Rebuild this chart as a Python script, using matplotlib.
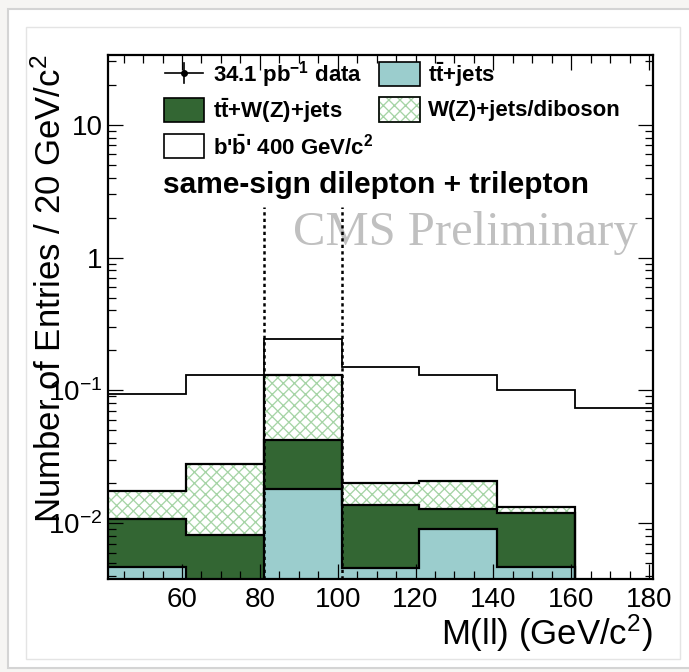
import numpy as np
import matplotlib
matplotlib.use("Agg")
import matplotlib.pyplot as plt
from matplotlib.patches import Rectangle
from matplotlib.ticker import FixedLocator, MultipleLocator, LogLocator, NullFormatter

# ---------------- data ----------------
bin_edges = [41, 61, 81, 101, 121, 141, 161, 181]
ttbar_jets = [0.0047, 0.0, 0.018, 0.0046, 0.009, 0.0047, 0.0]
ttbar_wz_jets = [0.0060, 0.0082, 0.024, 0.0090, 0.0038, 0.0073, 0.0]
wz_jets_diboson = [0.0067, 0.0198, 0.089, 0.0064, 0.0079, 0.0013, 0.0]
bprime_400 = [0.0766, 0.102, 0.112, 0.129, 0.109, 0.088, 0.0735]
data_counts = [0, 0, 0, 0, 0, 0, 0]
z_window = [81, 101]
x_ticks = [60, 80, 100, 120, 140, 160, 180]
y_ticks = [0.01, 0.1, 1, 10]
y_tick_labels = [r"$10^{-2}$", r"$10^{-1}$", "1", "10"]

# ---------------- style ----------------
plt.rcParams["font.family"] = ["Liberation Sans", "DejaVu Sans"]
plt.rcParams["mathtext.default"] = "regular"
plt.rcParams["hatch.linewidth"] = 0.95

W, H = 689, 672
fig = plt.figure(figsize=(W / 100, H / 100), dpi=100)
fig.patch.set_facecolor("#f6f5f3")


def fx(px):
    return px / W


def fy(py):
    return 1 - py / H


# card + inner frame
fig.patches.append(Rectangle((fx(8), fy(668)), fx(700) - fx(8), fy(9) - fy(668),
                             transform=fig.transFigure, facecolor="white",
                             edgecolor="#d4d4d4", lw=1.5, zorder=-3))
fig.patches.append(Rectangle((fx(25.5), fy(659)), fx(680) - fx(25.5), fy(26.5) - fy(659),
                             transform=fig.transFigure, facecolor="white",
                             edgecolor="#e4e4e4", lw=1.0, zorder=-2))

ax = fig.add_axes([fx(108), fy(579), fx(653) - fx(108), fy(55) - fy(579)])
ax.set_zorder(1)
ax.set_facecolor("none")
ax.set_yscale("log")
ax.set_xlim(bin_edges[0], bin_edges[-1])
ax.set_ylim(0.0038, 33.5)

edges = np.array(bin_edges, dtype=float)
FLOOR = 1e-5
c1 = np.array(ttbar_jets)
c2 = c1 + np.array(ttbar_wz_jets)
c3 = c2 + np.array(wz_jets_diboson)
c4 = c3 + np.array(bprime_400)

teal = "#9bcdcd"
dgreen = "#336633"
hatch_green = "#a6d4a6"
HATCH = "xxx"

ax.stairs(np.maximum(c1, FLOOR), edges, baseline=FLOOR, fill=True, color=teal, lw=0, zorder=1)
ax.stairs(np.maximum(c2, FLOOR), edges, baseline=np.maximum(c1, FLOOR), fill=True,
          color=dgreen, lw=0, zorder=1)
ax.stairs(np.maximum(c3, FLOOR), edges, baseline=np.maximum(c2, FLOOR), fill=True,
          facecolor="white", edgecolor=hatch_green, hatch=HATCH, lw=0, zorder=1)

for c, lw in [(c1, 1.6), (c2, 1.6), (c3, 1.6), (c4, 1.3)]:
    ax.stairs(np.maximum(c, FLOOR), edges, baseline=None, color="black", lw=lw, zorder=3)

# data points (none observed above the axis floor)
centers = 0.5 * (edges[:-1] + edges[1:])
dc = np.array(data_counts, dtype=float)
mask = dc > 0
ax.errorbar(centers[mask], dc[mask], yerr=np.sqrt(dc[mask]), fmt="o", color="black", ms=4, zorder=5)

# Z window lines
ax.vlines(z_window, 0.0038, 2.4, colors="black", linestyles=(0, (1.3, 1.3)), lw=1.8, zorder=4)

# ---------------- axes ----------------
for s in ax.spines.values():
    s.set_linewidth(1.6)
    s.set_zorder(6)
ax.xaxis.set_major_locator(FixedLocator(x_ticks))
ax.xaxis.set_minor_locator(MultipleLocator(5))
ax.yaxis.set_major_locator(FixedLocator(y_ticks))
ax.set_yticklabels(y_tick_labels)
ax.yaxis.set_minor_locator(LogLocator(base=10, subs=np.arange(2, 10)))
ax.yaxis.set_minor_formatter(NullFormatter())
ax.tick_params(which="both", direction="in", top=True, right=True, width=0.9)
ax.tick_params(which="major", length=11)
ax.tick_params(which="minor", length=5.5)
ax.tick_params(axis="x", which="major", labelsize=20, pad=6)
ax.tick_params(axis="y", which="major", labelsize=20, pad=4)

ax.set_xlabel(r"M(ll) (GeV/c$^{2}$)", fontsize=25, loc="right")
ax.xaxis.set_label_coords(1.0, (579 - 645) / 524)
ax.xaxis.label.set_verticalalignment("baseline")
ax.set_ylabel(r"Number of Entries / 20 GeV/c$^{2}$", fontsize=25, loc="top")
ax.yaxis.set_label_coords((61 - 108) / 545, 1.0)
ax.yaxis.label.set_verticalalignment("baseline")

# ---------------- texts ----------------
ax.text(fx(293), fy(245), "CMS Preliminary", family=["Liberation Serif", "DejaVu Serif"],
        fontsize=35, color="#c0c0c0", ha="left", va="baseline", zorder=0,
        transform=fig.transFigure)
ax.text(fx(163), fy(193), "same-sign dilepton + trilepton", fontsize=21.5,
        fontweight="bold", ha="left", va="baseline", transform=fig.transFigure)

# ---------------- legend (manual, ROOT style) ----------------
def box(x0, y0, x1, y1, **kw):
    ax.add_patch(Rectangle((fx(x0), fy(y1)), fx(x1) - fx(x0), fy(y0) - fy(y1),
                           transform=fig.transFigure, lw=1.2, clip_on=False, zorder=7, **kw))

LFS = 16
lkw = dict(transform=fig.transFigure, color="black", lw=1.2, clip_on=False, zorder=7)
ax.plot([fx(165), fx(203)], [fy(73), fy(73)], **lkw)
ax.plot([fx(184), fx(184)], [fy(63), fy(83)], **lkw)
ax.plot([fx(184)], [fy(73)], marker="o", ms=4, **lkw)
ax.text(fx(213), fy(82), r"34.1 pb$^{-1}$ data", fontsize=LFS, fontweight="bold",
        va="baseline", transform=fig.transFigure)
box(164, 98, 204, 122, facecolor=dgreen, edgecolor="black")
ax.text(fx(213), fy(118), r"$t\bar{t}$+W(Z)+jets", fontsize=LFS, fontweight="bold",
        va="baseline", transform=fig.transFigure)
box(164, 134, 204, 158, facecolor="white", edgecolor="black")
ax.text(fx(213), fy(155), r"b'$\bar{b}$' 400 GeV/c$^{2}$", fontsize=LFS, fontweight="bold",
        va="baseline", transform=fig.transFigure)
box(379, 62, 420, 86, facecolor=teal, edgecolor="black")
ax.text(fx(428), fy(82), r"$t\bar{t}$+jets", fontsize=LFS, fontweight="bold",
        va="baseline", transform=fig.transFigure)
box(379, 97, 420, 122, facecolor="white", edgecolor=hatch_green, hatch=HATCH)
box(379, 97, 420, 122, facecolor="none", edgecolor="black")
ax.text(fx(428), fy(116), "W(Z)+jets/diboson", fontsize=LFS, fontweight="bold",
        va="baseline", transform=fig.transFigure)

fig.savefig("out.png", dpi=100, facecolor=fig.get_facecolor())
